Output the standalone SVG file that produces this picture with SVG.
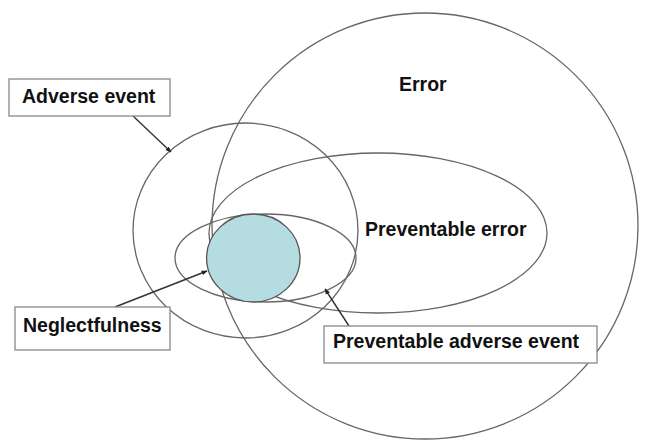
<svg xmlns="http://www.w3.org/2000/svg" width="646" height="446" viewBox="0 0 646 446">
  <defs>
    <marker id="arrow" viewBox="0 0 10 10" refX="9" refY="5" markerWidth="6" markerHeight="6" markerUnits="userSpaceOnUse" orient="auto">
      <path d="M0,1 L10,5 L0,9 z" fill="#222"/>
    </marker>
  </defs>
  <style>
    .set { fill: none; stroke: #666; stroke-width: 1.3; }
    .core { fill: #b5dde1; stroke: #555; stroke-width: 1.3; }
    .box { fill: #fff; stroke: #888; stroke-width: 1.3; }
    .lbl { font-family: "Liberation Sans", Arial, sans-serif; font-weight: bold; font-size: 19.5px; fill: #111; }
    .link { stroke: #333; stroke-width: 1.4; fill: none; marker-end: url(#arrow); }
  </style>
  <rect width="646" height="446" fill="#fff"/>

  <g id="error">
    <circle class="set" cx="425" cy="226" r="213"/>
    <text class="lbl" x="399" y="91">Error</text>
  </g>
  <g id="adverse-event-set">
    <ellipse class="set" cx="245.5" cy="230.5" rx="112.5" ry="107.5"/>
  </g>
  <g id="preventable-error">
    <ellipse class="set" cx="378" cy="233" rx="169" ry="80"/>
    <text class="lbl" x="365" y="236">Preventable error</text>
  </g>
  <g id="preventable-adverse-event-set">
    <ellipse class="set" cx="265.5" cy="258" rx="90.5" ry="44"/>
  </g>
  <g id="neglectfulness-set">
    <ellipse class="core" cx="253.3" cy="258" rx="46.7" ry="44"/>
  </g>

  <g id="connectors">
    <line class="link" x1="133" y1="116" x2="171" y2="152"/>
    <line class="link" x1="115" y1="307" x2="207" y2="271"/>
    <line class="link" x1="349" y1="326" x2="325" y2="289"/>
  </g>

  <g id="adverse-event">
    <rect class="box" x="9" y="79" width="161" height="37"/>
    <text class="lbl" x="22" y="103">Adverse event</text>
  </g>
  <g id="neglectfulness">
    <rect class="box" x="15" y="307" width="155" height="43"/>
    <text class="lbl" x="23" y="332">Neglectfulness</text>
  </g>
  <g id="preventable-adverse-event">
    <rect class="box" x="324" y="326" width="273" height="37"/>
    <text class="lbl" x="333" y="348">Preventable adverse event</text>
  </g>
</svg>
